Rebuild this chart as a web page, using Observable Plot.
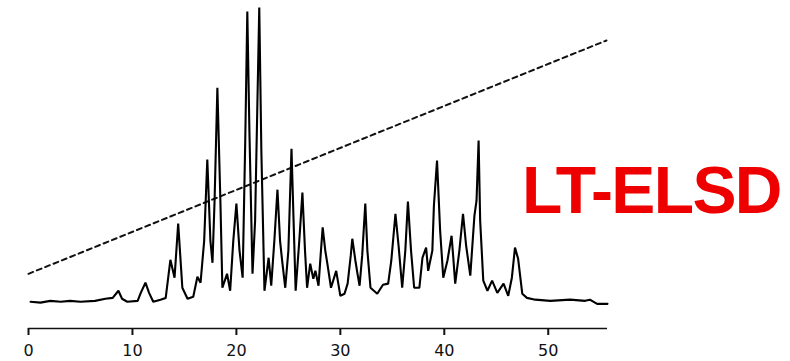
<!DOCTYPE html>
<html>
<head>
<meta charset="utf-8">
<script src="https://cdn.jsdelivr.net/npm/d3@7"></script>
<script src="https://cdn.jsdelivr.net/npm/@observablehq/plot@0.6"></script>
<style>
  html, body { margin: 0; padding: 0; background: #fff; }
  #wrap { position: relative; width: 790px; height: 361px; overflow: hidden; }
  #label {
    position: absolute; left: 522px; top: 157px;
    font-family: "Liberation Sans", Arial, sans-serif; font-weight: bold;
    font-size: 66px; line-height: 66px; letter-spacing: -1.6px;
    color: #ee0000; white-space: nowrap;
  }
</style>
</head>
<body>
<div id="wrap"><div id="label">LT-ELSD</div></div>
<script>
// Retention time (min)
const time = [
  0.2, 1.15, 2.1, 3.1, 4.0, 5.0, 6.4, 7.4, 8.1, 8.65, 9.0, 9.5, 10.5, 10.8, 11.25, 11.6, 12.0,
  12.7, 13.2, 13.65, 14.05, 14.4, 14.8, 15.3, 15.85, 16.25, 16.55, 16.9, 17.2, 17.5, 17.7, 17.9,
  18.17, 18.46, 18.65, 19.1, 19.4, 19.7, 20.0, 20.3, 20.6, 20.85, 21.05, 21.25, 21.55, 21.8, 22.0,
  22.2, 22.4, 22.7, 23.1, 23.35, 23.65, 23.95, 24.2, 24.4, 24.7, 25.0, 25.3, 25.5, 25.7, 26.05,
  26.35, 26.6, 26.8, 27.1, 27.4, 27.6, 27.9, 28.1, 28.3, 28.55, 28.75, 29.1, 29.6, 30.0, 30.4,
  30.7, 31.0, 31.15, 31.45, 31.65, 31.85, 32.1, 32.4, 32.6, 32.9, 33.55, 34.1, 34.6, 34.9, 35.3,
  35.6, 35.95, 36.25, 36.5, 36.8, 37.1, 37.6, 37.9, 38.25, 38.45, 38.85, 39.0, 39.3, 39.6, 39.9,
  40.3, 40.7, 40.85, 41.05, 41.45, 41.8, 42.1, 42.5, 42.9, 43.1, 43.3, 43.45, 43.75, 44.15, 44.6,
  45.1, 45.7, 46.15, 46.5, 46.8, 47.1, 47.5, 47.95, 48.75, 50.2, 52.1, 53.55, 54.0, 54.7, 55.7
];
// Detector signal (arbitrary units)
const signal = [
  0, -0.3, 0.3, 0, 0.3, 0, 0.3, 1.0, 1.3, 3.7, 1.0, 0, 0.3, 3.0, 6.4, 3.0, 0,
  0.7, 1.3, 14.1, 8.1, 26.3, 4.7, 1.0, 1.7, 8.4, 6.4, 20.5, 47.8, 20.5, 13.1, 34,
  72, 34, 4.7, 9.4, 3.7, 20.5, 33, 17.2, 8.1, 54, 97.6, 57.6, 9.4, 27.3, 63.3,
  99, 50.8, 3.7, 14.8, 5.4, 20.5, 37.7, 20.5, 13.8, 4.7, 17.2, 51.5, 27.3, 3.7, 20.5,
  36.7, 17.2, 4.7, 12.8, 7.7, 10.4, 5.4, 15.5, 25, 17.2, 12.8, 4.7, 10.4, 2.0, 2.7,
  6.1, 15.5, 21.2, 13.8, 9.4, 5.4, 15.5, 33, 17.2, 4.7, 2.7, 5.7, 6.1, 13.8, 29.6,
  18.9, 4.7, 17.2, 33.7, 17.2, 4.7, 4.7, 14.8, 18.2, 10.4, 17.2, 32.3, 47.5, 23.9, 8.1,
  13.8, 22.2, 15.5, 6.1, 17.2, 29.6, 18.9, 8.8, 29, 34, 54.2, 27.3, 7.1, 3.7, 7.1,
  3.0, 6.1, 2.0, 8.1, 18.2, 14.5, 2.7, 1.3, 0.7, 0.3, 0.7, 0.3, 0.7, -0.7, -0.7
];
// Gradient program (dashed line)
const gradTime = [0, 55.6];
const gradLevel = [9.4, 87.9];
// Axis ticks
const xTicks = [0, 10, 20, 30, 40, 50];

const trace = time.map((t, i) => ({t, v: signal[i]}));
const grad = gradTime.map((t, i) => ({t, v: gradLevel[i]}));

const chart = Plot.plot({
  width: 790,
  height: 361,
  marginLeft: 28,
  marginRight: 183,
  marginTop: 4,
  marginBottom: 33,
  style: {background: "transparent", fontFamily: "DejaVu Sans, sans-serif"},
  x: {domain: [0, 55.7]},
  y: {domain: [-9, 100], axis: null},
  marks: [
    Plot.ruleY([-9], {stroke: "#111", strokeWidth: 1.6}),
    Plot.axisX({ticks: xTicks, tickSize: 7, tickPadding: 9, fontSize: 16,
      stroke: "#111", strokeWidth: 2, fill: "#111", label: null}),
    Plot.line(grad, {x: "t", y: "v", stroke: "#111", strokeWidth: 2, strokeDasharray: "5,4"}),
    Plot.line(trace, {x: "t", y: "v", stroke: "#000", strokeWidth: 2.1, strokeLinejoin: "miter"})
  ]
});
document.getElementById("wrap").prepend(chart);
</script>
</body>
</html>
